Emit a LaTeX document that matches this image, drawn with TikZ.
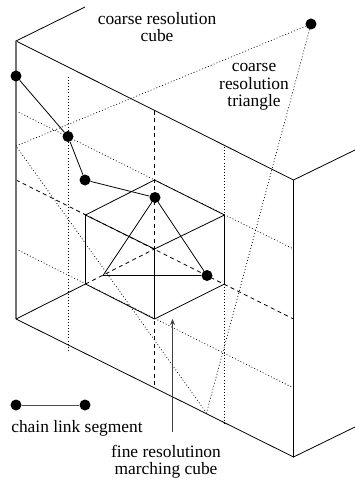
\documentclass[tikz,border=0pt]{standalone}
\usepackage{fontspec}
\setmainfont{Liberation Serif}
\usetikzlibrary{arrows.meta}

\begin{document}
\begin{tikzpicture}[
  x=1pt, y=-1pt,
  solidline/.style={draw, line width=0.8pt},
  dashline/.style={draw, line width=0.8pt, dash pattern=on 4pt off 3.5pt},
  dotline/.style={draw, line width=0.7pt, dash pattern=on 0.9pt off 2.2pt},
  chaindot/.style={circle, fill=black, minimum size=11pt, inner sep=0pt},
  label/.style={font=\fontsize{17.4}{17.3}\selectfont, align=center, inner sep=0pt}
]
\useasboundingbox (0,0) rectangle (355,481);
% coarse cube
\coordinate (ftl) at (16,41);
\coordinate (ftr) at (293.5,180);
\coordinate (fbl) at (16,319);
\coordinate (fbr) at (293.5,457);
\coordinate (btl) at (85,7);
\coordinate (btr) at (355,150);
\coordinate (bbr) at (355,427);
% fine cube
\coordinate (htop) at (154.5,180);
\coordinate (hul) at (85.5,215);
\coordinate (hur) at (224.5,215);
\coordinate (hmid) at (154.5,249);
\coordinate (hll) at (85.5,284);
\coordinate (hlr) at (224.5,284);
\coordinate (hbot) at (154.5,319);
% grid ends
\coordinate (dlL) at (16,180);
\coordinate (dlR) at (293.5,319);
\coordinate (dvT) at (154.5,111);
\coordinate (dvB) at (154.5,388);
\coordinate (v1T) at (68,77);
\coordinate (v1B) at (68,352);
\coordinate (v2T) at (224.5,147);
\coordinate (v2B) at (224.5,423);
\coordinate (g1L) at (16,111);
\coordinate (g1R) at (293.5,249);
\coordinate (g2L) at (16,249);
\coordinate (g2R) at (293.5,388);
\coordinate (triL) at (16,146);
\coordinate (triB) at (206.5,413);
\coordinate (finl) at (103,275.5);
\coordinate (arrowS) at (172.5,432);
\coordinate (arrowE) at (172.5,319);

% dotted grid
\draw[dotline] (v1T) -- (v1B);
\draw[dotline] (v2T) -- (v2B);
\draw[dotline] (g1L) -- (g1R);
\draw[dotline] (g2L) -- (g2R);

% dashed grid
\draw[dashline] (dlL) -- (dlR);
\draw[dashline] (dvT) -- (dvB);
\draw[dashline] (hll) -- (hmid);

% outer edges
\draw[solidline] (btl) -- (ftl) -- (ftr) -- (btr);
\draw[solidline] (ftr) -- (fbr) -- (bbr);
\draw[solidline] (fbr) -- (fbl);
\draw[line width=1.2pt, black!55] (ftl) -- (fbl);

% fine cube
\draw[solidline] (fbl) -- (hll) -- (hbot) -- (hlr) -- (hur) -- (htop) -- (hul) -- (hll);
\draw[solidline] (hul) -- (hmid) -- (hur);
\draw[solidline] (hmid) -- (hbot);

% chain
\node[chaindot] (c1) at (16,76) {};
\node[chaindot] (c2) at (68,136.5) {};
\node[chaindot] (c3) at (85,180) {};
\node[chaindot] (c4) at (155,197.5) {};
\node[chaindot] (c5) at (207,275.5) {};
\node[chaindot] (apex) at (311,24) {};
\draw[solidline] (c1) -- (c2) -- (c3) -- (c4) -- (c5) -- (finl) -- (c4);

% coarse triangle
\draw[dotline] (triL) -- (apex) -- (triB) -- (triL);

% legend
\node[chaindot] (leg1) at (16,405) {};
\node[chaindot] (leg2) at (85,405) {};
\draw[solidline, black!70] (leg1) -- (leg2);

% arrow
\draw[line width=0.9pt, black!75, -{Stealth[length=6pt,width=5pt]}] (arrowS) -- (arrowE);

% labels
\node[label] (cube) at (157,27) {coarse resolution\\cube};
\node[label] (tri) at (254,87) {coarse\\resolution\\triangle};
\node[label] (seg) at (77,428) {chain link segment};
\node[label] (fine) at (166,462) {fine resolutinon\\marching cube};
\end{tikzpicture}
\end{document}
